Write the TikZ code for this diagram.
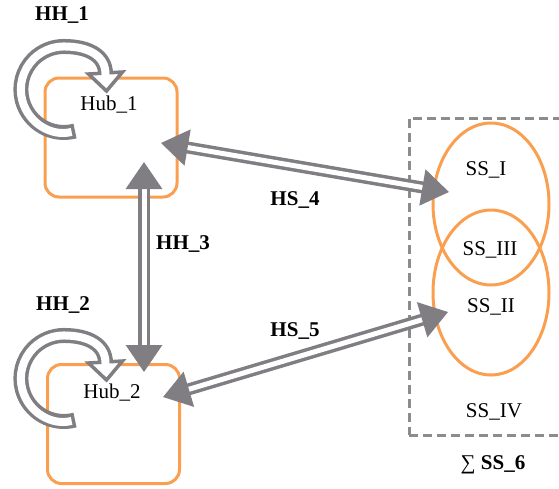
\documentclass[tikz,border=0pt]{standalone}
\usepackage{fontspec}
\setmainfont{Liberation Serif}
\usetikzlibrary{positioning}
\usetikzlibrary{shapes.geometric,arrows.meta}
\definecolor{hubor}{RGB}{250,158,80}
\definecolor{argray}{RGB}{128,126,130}
\definecolor{dashgray}{RGB}{140,140,140}
\tikzset{hub/.style={ % rounded box of a hub
			draw=hubor,
			line width=3pt,
			rounded corners=14pt,
			minimum width=132pt,
			minimum height=119pt},
	sset/.style={draw=hubor, ellipse, line width=3pt, minimum width=116pt},
	link/.style={draw=argray, line width=3.5pt, double=white, double distance=5pt,
			{Triangle[length=27pt,width=36pt]}-{Triangle[length=27pt,width=36pt]}},
	loopout/.style={draw=argray, line width=15pt},
	loopin/.style={draw=white, line width=8pt, shorten <=3.5pt},
	loophead/.style={draw=argray, fill=white, line width=3.5pt, line join=miter},
	lab/.style={font=\fontsize{21}{24}\selectfont},
	blab/.style={font=\fontsize{21}{24}\selectfont\bfseries}}

\begin{document}
\begin{tikzpicture}[x=1pt,y=-1pt]
			\useasboundingbox (0,0) rectangle (559,488);
			\node [hub] (H1) at (111,137.5) {};
			\node [hub] (H2) at (113.5,424) {};
			\node [lab] (H1t) at (109,105) {Hub\_1};
			\node [lab] (H2t) at (112,393) {Hub\_2};
			
			\node [draw=dashgray, dash pattern=on 9pt off 5pt, line width=3pt,
				minimum width=170pt, minimum height=317pt] (S) at (494,276.5) {};
			\node [sset, minimum height=162pt] (S1) at (491,204) {};
			\node [sset, minimum height=165pt] (S2) at (491,292.5) {};
			\node [lab] (S1t) at (486,170) {SS\_I};
			\node [lab] (S3t) at (490,250) {SS\_III};
			\node [lab] (S2t) at (491,307) {SS\_II};
			\node [lab] (S4t) at (494,412) {SS\_IV};
			\node [lab] (S6t) at (493,465) {∑ \textbf{SS\_6}};
			
			\coordinate (L1a) at (75,131);
			\coordinate (L1m) at (105.5,74);
			\coordinate (L1b) at (106.5,91);
			\coordinate (L2a) at (75,420);
			\coordinate (L2m) at (105.5,363);
			\coordinate (L2b) at (106.5,380);
			\coordinate (A3a) at (144,162);
			\coordinate (A3b) at (144,372);
			\coordinate (A4a) at (161,143);
			\coordinate (A4b) at (449,192);
			\coordinate (A5a) at (163,397);
			\coordinate (A5b) at (448,312);
			
			% hollow self loops
			\draw [loopout] (L1a) arc[start angle=75, end angle=270, radius=43] .. controls +(25,0) and +(0,-18) .. (L1m);
			\draw [loophead] ([xshift=-17]L1m) -- ([xshift=17,yshift=2]L1m) -- (L1b) -- cycle;
			\draw [loopin] (L1a) arc[start angle=75, end angle=270, radius=43] .. controls +(25,0) and +(0,-18) .. (L1m) -- ++(0,3);
			\draw [loopout] (L2a) arc[start angle=75, end angle=270, radius=43] .. controls +(25,0) and +(0,-18) .. (L2m);
			\draw [loophead] ([xshift=-17]L2m) -- ([xshift=17,yshift=2]L2m) -- (L2b) -- cycle;
			\draw [loopin] (L2a) arc[start angle=75, end angle=270, radius=43] .. controls +(25,0) and +(0,-18) .. (L2m) -- ++(0,3);
			
			\draw [link] (A3a) -- (A3b);
			\draw [link] (A4a) -- (A4b);
			\draw [link] (A5a) -- (A5b);
			
			\node [blab] (HH1) at (62,15) {HH\_1};
			\node [blab] (HH2) at (63,305) {HH\_2};
			\node [blab] (HH3) at (183,244) {HH\_3};
			\node [blab] (HS4) at (295,200) {HS\_4};
			\node [blab] (HS5) at (295,331) {HS\_5};
		\end{tikzpicture}
\end{document}
